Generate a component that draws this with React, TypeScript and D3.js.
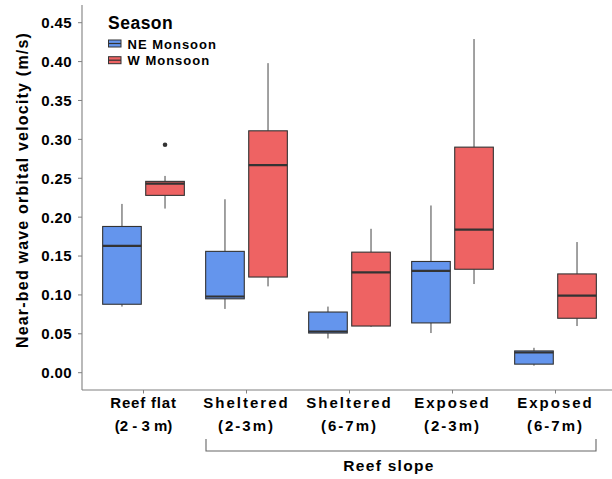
import * as d3 from "d3";

const categories = ["Reef flat", "Sheltered", "Sheltered", "Exposed", "Exposed"];
const depths = ["(2 - 3 m)", "(2-3m)", "(6-7m)", "(2-3m)", "(6-7m)"];
const seasons = ["NE Monsoon", "W Monsoon"];

// [lower whisker, Q1, median, Q3, upper whisker]
const neMonsoon = [
  [0.085, 0.088, 0.163, 0.188, 0.217],
  [0.082, 0.095, 0.098, 0.156, 0.223],
  [0.044, 0.051, 0.053, 0.078, 0.085],
  [0.051, 0.064, 0.131, 0.143, 0.215],
  [0.009, 0.011, 0.026, 0.028, 0.032],
];
const wMonsoon = [
  [0.211, 0.228, 0.243, 0.246, 0.253],
  [0.111, 0.123, 0.267, 0.311, 0.398],
  [0.059, 0.060, 0.129, 0.155, 0.185],
  [0.114, 0.133, 0.184, 0.290, 0.429],
  [0.060, 0.070, 0.099, 0.127, 0.168],
];
const outliers = [{ group: 0, season: "W Monsoon", value: 0.293 }];

const yTicks = [0, 0.05, 0.1, 0.15, 0.2, 0.25, 0.3, 0.35, 0.4, 0.45];

const colors = { "NE Monsoon": "#6495ed", "W Monsoon": "#ee6363" };
const font = "'Liberation Sans', Arial, Helvetica, sans-serif";

export default function App() {
  const width = 612;
  const height = 479;
  const left = 82;
  const bottom = 390;

  const groupIds = categories.map((_, i) => String(i));
  const x = d3.scaleBand().domain(groupIds).range([92, 607]).padding(0);
  const bw = x.bandwidth();
  const xs = d3
    .scaleBand()
    .domain(seasons)
    .range([0.1035 * bw, 0.8965 * bw])
    .paddingInner(0.103);
  const y = d3.scaleLinear().domain([0, 0.45]).range([372.7, 22.7]);

  const boxes = [
    ...neMonsoon.map((s, i) => ({ group: i, season: seasons[0], s })),
    ...wMonsoon.map((s, i) => ({ group: i, season: seasons[1], s })),
  ];

  const bracketL = 206;
  const bracketR = 596;

  return (
    <svg
      width={width}
      height={height}
      style={{ position: "absolute", left: 0, top: 0, background: "#fff" }}
      fontFamily={font}
      fontWeight="bold"
    >
      {/* boxes */}
      {boxes.map((b, i) => {
        const x0 = (x(String(b.group)) ?? 0) + (xs(b.season) ?? 0);
        const w = xs.bandwidth();
        const cx = x0 + w / 2;
        const [lo, q1, med, q3, hi] = b.s;
        return (
          <g key={i}>
            <line x1={cx} x2={cx} y1={y(hi)} y2={y(q3)} stroke="#444" strokeWidth={1} />
            <line x1={cx} x2={cx} y1={y(q1)} y2={y(lo)} stroke="#444" strokeWidth={1} />
            <rect
              x={x0}
              y={y(q3)}
              width={w}
              height={y(q1) - y(q3)}
              fill={colors[b.season]}
              stroke="#333"
              strokeWidth={1.1}
            />
            <line x1={x0} x2={x0 + w} y1={y(med)} y2={y(med)} stroke="#333" strokeWidth={2.2} />
          </g>
        );
      })}
      {outliers.map((o, i) => (
        <circle
          key={i}
          cx={(x(String(o.group)) ?? 0) + (xs(o.season) ?? 0) + xs.bandwidth() / 2}
          cy={y(o.value)}
          r={2.3}
          fill="#333"
        />
      ))}

      {/* axes */}
      <line x1={left} x2={left} y1={5} y2={bottom} stroke="#808080" strokeWidth={1.1} />
      <line x1={left} x2={width} y1={bottom} y2={bottom} stroke="#808080" strokeWidth={1.1} />
      {yTicks.map((t) => (
        <g key={t}>
          <line x1={left - 4} x2={left} y1={y(t)} y2={y(t)} stroke="#808080" />
          <text x={72} y={y(t) + 5.4} textAnchor="end" fontSize={15} letterSpacing={0.4} fill="#000">
            {t.toFixed(2)}
          </text>
        </g>
      ))}
      {groupIds.map((g, i) => {
        const cx = (x(g) ?? 0) + bw / 2;
        const ls = i === 0 ? 0.8 : 2;
        return (
          <g key={g}>
            <line x1={cx} x2={cx} y1={bottom} y2={bottom + 3.5} stroke="#808080" />
            <text x={cx} y={408} textAnchor="middle" fontSize={15} letterSpacing={ls} fill="#000">
              {categories[i]}
            </text>
            <text x={cx} y={430.5} textAnchor="middle" fontSize={15} letterSpacing={i === 0 ? 0 : 2} fill="#000">
              {depths[i]}
            </text>
          </g>
        );
      })}

      {/* y title */}
      <text
        transform="translate(27.5,190) rotate(-90)"
        textAnchor="middle"
        fontSize={16}
        letterSpacing={1.2}
        fill="#000"
      >
        Near-bed wave orbital velocity (m/s)
      </text>

      {/* reef slope bracket */}
      <path
        d={`M${bracketL},439V451H${bracketR}V439`}
        fill="none"
        stroke="#666"
        strokeWidth={1.1}
      />
      <text x={389} y={471} textAnchor="middle" fontSize={15.5} letterSpacing={1.3} fill="#000">
        Reef slope
      </text>

      {/* legend */}
      <text x={108} y={29.3} fontSize={17.5} letterSpacing={0.5} fill="#000">
        Season
      </text>
      {seasons.map((s, i) => {
        const ky = 40 + i * 16.7;
        return (
          <g key={s}>
            <rect x={108.5} y={ky} width={12.5} height={7} fill={colors[s]} stroke="#333" strokeWidth={1} />
            <line x1={108.5} x2={121} y1={ky + 3.5} y2={ky + 3.5} stroke="#333" strokeWidth={1.2} />
            <text x={127.5} y={ky + 8.7} fontSize={13} letterSpacing={1} fill="#000">
              {s}
            </text>
          </g>
        );
      })}
    </svg>
  );
}
